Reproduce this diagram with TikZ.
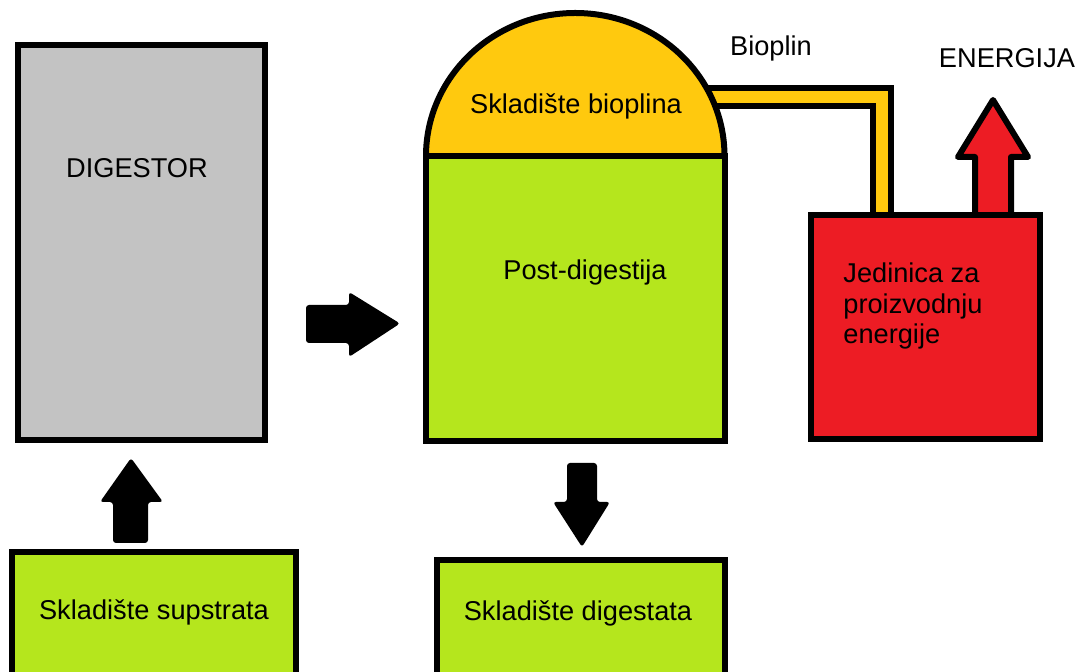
\documentclass[tikz,border=0pt]{standalone}
\usepackage{fontspec}
\setmainfont{Liberation Sans}
\definecolor{dgray}{HTML}{C3C3C3}
\definecolor{lime}{HTML}{B5E61D}
\definecolor{gold}{HTML}{FFC90E}
\definecolor{pred}{HTML}{ED1C24}
\begin{document}
\begin{tikzpicture}[x=0.5pt,y=-0.5pt,
  box/.style={draw=black,line width=3pt,inner sep=0pt},
  lbl/.style={font=\fontsize{13.6}{15.3}\selectfont,inner sep=0pt,text=black},
  blockarrow/.style={fill=black,rounded corners=1.5pt}]
\clip (0,0) rectangle (1081,672);
% digestor
\node[box,fill=dgray,minimum width=123.5pt,minimum height=197.5pt] (dig) at (141.5,242.5) {};
\node[lbl] (digl) at (137,168) {DIGESTOR};
% substrate storage
\node[box,fill=lime,minimum width=142pt,minimum height=74pt] (sup) at (154,626) {};
\node[lbl] (supl) at (154,612) {Skladište supstrata};
% digestate storage
\node[box,fill=lime,minimum width=144pt,minimum height=70pt] (dgs) at (581,630) {};
\node[lbl] (dgsl) at (578,613) {Skladište digestata};
% biogas pipe
\coordinate (p0) at (690,97.5);
\coordinate (p1) at (882,97.5);
\coordinate (p2) at (882,230);
\draw[line width=12pt,line join=miter] (p0) -- (p1) -- (p2);
\draw[gold,line width=6pt,line join=miter] (p0) -- (p1) -- (p2);
% energy arrow
\draw[fill=pred,line width=3pt,line join=round] (975,230) -- (975,157) -- (958,157) -- (993,100) -- (1028,157) -- (1011,157) -- (1011,230) -- cycle;
% post-digestion tank with dome
\coordinate (tnw) at (426,156);
\fill[gold] (tnw) arc[start angle=180,end angle=0,x radius=74.625pt,y radius=71.5pt] -- cycle;
\draw[line width=3pt] (tnw) arc[start angle=180,end angle=0,x radius=74.625pt,y radius=71.5pt];
\node[box,fill=lime,minimum width=149.25pt,minimum height=142.5pt] (tank) at (575.25,298.5) {};
\node[lbl] (doml) at (576,106) {Skladište bioplina};
\node[lbl] (tankl) at (585,272) {Post-digestija};
% energy unit
\node[box,fill=pred,minimum width=114.5pt,minimum height=112pt] (unit) at (925.5,327) {};
\node[lbl,anchor=west,align=left] (unitl) at (843,306) {Jedinica za\\proizvodnju\\energije};
% black block arrows
\fill[blockarrow] (306,305) -- (349,305) -- (349,292) -- (400,323.5) -- (349,357) -- (349,343) -- (306,343) -- cycle;
\fill[blockarrow] (113,543) -- (113,502) -- (100,502) -- (131,458) -- (163,502) -- (148,502) -- (148,543) -- cycle;
\fill[blockarrow] (567,463) -- (597,463) -- (597,502) -- (610,502) -- (582,547) -- (553,502) -- (567,502) -- cycle;
% labels
\node[lbl] (biol) at (771,48) {Bioplin};
\node[lbl] (enl) at (1007,58) {ENERGIJA};
\end{tikzpicture}
\end{document}
